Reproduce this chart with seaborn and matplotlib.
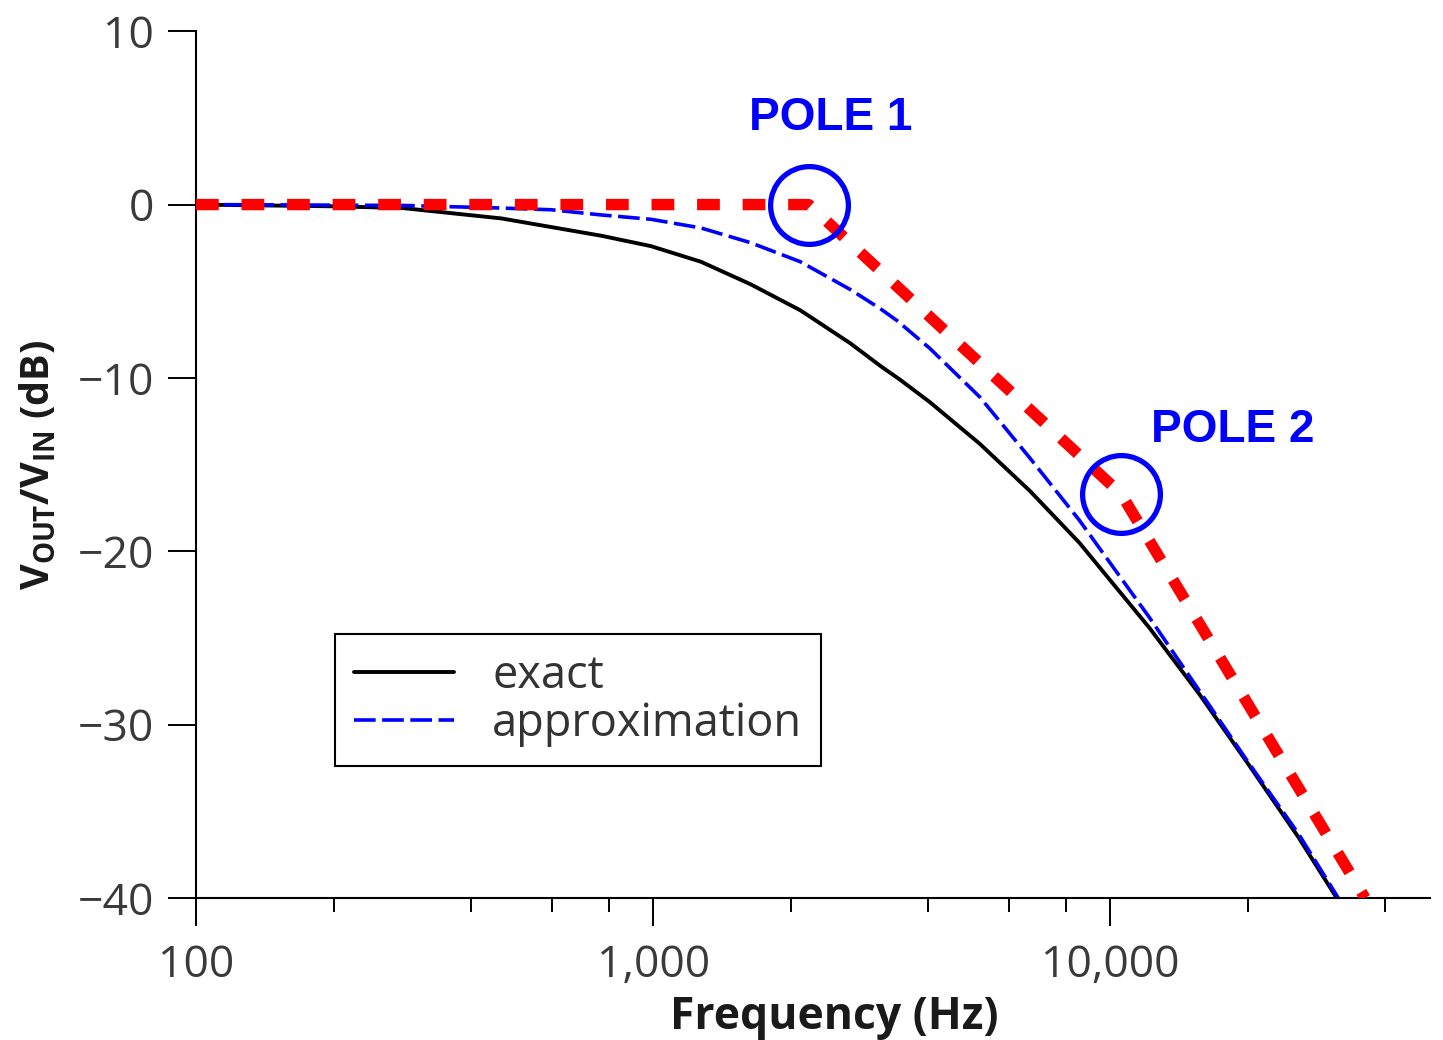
import matplotlib
matplotlib.use("Agg")
import matplotlib.pyplot as plt
import seaborn as sns
from matplotlib.ticker import FixedLocator, NullFormatter

# values
freq_exact = [100, 200, 283, 466, 771, 990, 1273, 1635, 2100, 2700, 3139, 3469, 4033, 5184,
              6663, 8556, 9461, 12170, 15630, 20080, 25820, 31300]
db_exact = [0.0, -0.1, -0.2, -0.8, -1.8, -2.4, -3.3, -4.6, -6.1, -8.0, -9.3, -10.1, -11.4, -13.8,
            -16.5, -19.5, -20.9, -24.4, -28.2, -32.3, -36.5, -40.0]

freq_approx = [100, 283, 466, 599, 771, 990, 1273, 1635, 2100, 2700, 3139, 3419, 4033, 5184,
               6663, 8556, 9950, 12170, 15630, 20080, 25820, 31550]
db_approx = [0.0, -0.05, -0.2, -0.3, -0.6, -0.85, -1.35, -2.2, -3.3, -4.9, -6.0, -6.7, -8.3, -11.1,
             -14.6, -18.2, -20.6, -23.8, -28.0, -32.2, -36.3, -40.0]

freq_asym = [100, 2190, 10570, 36100]
db_asym = [0.0, 0.0, -16.7, -40.0]

pole_freq = [2190, 10570]
pole_db = [0.0, -16.7]
pole_labels = ["POLE 1", "POLE 2"]
pole_offsets = [(16, 62), (80, 46)]

major_ticks = [100, 1000, 10000]
major_labels = ["100", "1,000", "10,000"]
minor_ticks = [200, 400, 600, 800, 2000, 4000, 6000, 8000, 20000, 40000]
y_ticks = [-40, -30, -20, -10, 0, 10]

sns.set_theme(style="white")
plt.rcParams["font.family"] = ["Open Sans", "DejaVu Sans"]
plt.rcParams["mathtext.fontset"] = "custom"
plt.rcParams["mathtext.bf"] = "Open Sans:bold"
plt.rcParams["mathtext.rm"] = "Open Sans:bold"
plt.rcParams["mathtext.default"] = "bf"

fig = plt.figure(figsize=(14.43, 10.40), dpi=100)
ax = fig.add_axes([0.1358, 0.1365, 0.855, 0.8335])

sns.lineplot(x=freq_exact, y=db_exact, color="black", lw=2.8, estimator=None, sort=False,
             ax=ax, label="exact")
sns.lineplot(x=freq_approx, y=db_approx, color="blue", lw=2.6, linestyle=(0, (6, 1.8)),
             estimator=None, sort=False, ax=ax, label="approximation")
sns.lineplot(x=freq_asym, y=db_asym, color="red", lw=8.2, linestyle=(0, (2.0, 2.0)),
             dash_capstyle="butt", estimator=None, sort=False, ax=ax, zorder=4)
ax.plot(pole_freq, pole_db, linestyle="none", marker="o", ms=56, mfc="none",
        mec="blue", mew=3.8, zorder=5, clip_on=False)

for f, d, txt, off in zip(pole_freq, pole_db, pole_labels, pole_offsets):
    ax.annotate(txt, xy=(f, d), xytext=off, textcoords="offset points",
                ha="center", va="center", color="blue", fontsize=33,
                fontweight="bold", family=["Liberation Sans", "DejaVu Sans"])

ax.set_xscale("log")
ax.set_xlim(100, 50000)
ax.set_ylim(-40, 10)
ax.xaxis.set_major_locator(FixedLocator(major_ticks))
ax.set_xticklabels(major_labels)
ax.xaxis.set_minor_locator(FixedLocator(minor_ticks))
ax.xaxis.set_minor_formatter(NullFormatter())
ax.set_yticks(y_ticks)
ax.yaxis.set_minor_locator(FixedLocator([]))

sns.despine(ax=ax)
for s in ["left", "bottom"]:
    ax.spines[s].set_color("black")
    ax.spines[s].set_linewidth(1.5)

ax.tick_params(axis="both", which="major", length=20, width=1.4, color="black",
               labelsize=32, labelcolor="#3a3a3a", pad=10, direction="out")
ax.tick_params(axis="x", which="major", pad=13)
ax.tick_params(axis="x", which="minor", length=10, width=1.4, color="black", direction="out")
ax.tick_params(axis="x", which="both", bottom=True)
ax.tick_params(axis="y", which="major", left=True)

ax.set_xlabel("Frequency (Hz)", fontsize=32, fontweight="bold", color="#1a1a1a")
ax.xaxis.set_label_coords(0.517, -0.112)
ax.set_ylabel(r"V$_{\mathbf{OUT}}$/V$_{\mathbf{IN}}$ (dB)", fontsize=28.5, fontweight="bold",
              labelpad=14, color="#1a1a1a")

handles, labels = ax.get_legend_handles_labels()
leg = ax.legend(handles[:2], labels[:2], loc="upper left", bbox_to_anchor=(0.113, 0.305),
                borderaxespad=0, fontsize=32.5, frameon=True, fancybox=False, framealpha=1,
                edgecolor="black", handlelength=2.2, handletextpad=0.85, labelspacing=0.05,
                borderpad=0.42)
leg.get_frame().set_linewidth(1.5)
for t in leg.get_texts():
    t.set_color("#333333")

fig.savefig("out.png", dpi=100)
